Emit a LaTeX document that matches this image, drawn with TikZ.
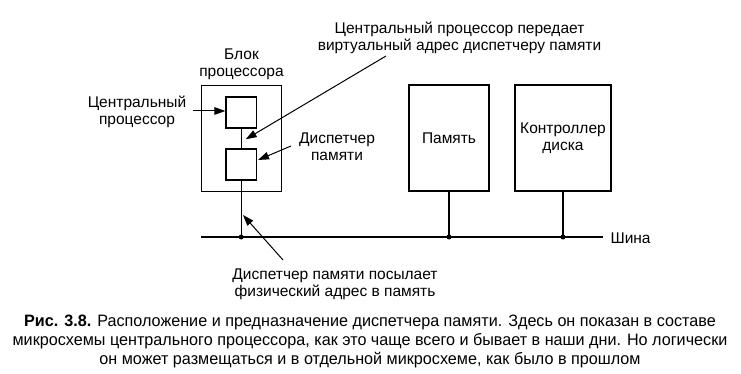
\documentclass[tikz,border=0pt]{standalone}
\usepackage{fontspec}
\setmainfont{Liberation Sans}
\newfontfamily\capfont[FakeStretch=0.98]{Liberation Sans}
\usetikzlibrary{arrows.meta}
\begin{document}
\begin{tikzpicture}[x=1pt,y=-1pt,line width=1.1pt,
  box/.style={draw,rectangle,inner sep=0pt},
  lbl/.style={align=center,inner sep=0pt,font=\fontsize{15.5}{17}\selectfont},
  arr/.style={-{Triangle[length=11pt,width=7.5pt]},line width=1pt},
  dot/.style={circle,fill,inner sep=0pt,minimum size=5pt}]
\useasboundingbox (0,0) rectangle (741,374);
% boxes
\node[box,minimum width=80,minimum height=106] (blk) at (241.5,138.5) {};
\node[box,minimum width=30.5,minimum height=31] (cpu) at (241.2,112.5) {};
\node[box,minimum width=30.5,minimum height=31] (mmu) at (241.2,164.5) {};
\node[box,minimum width=80,minimum height=106,lbl] (mem) at (449,138) {Память};
\node[box,minimum width=96,minimum height=106,lbl] (disk) at (563,138) {Контроллер\\диска};
% bus
\coordinate (busL) at (201,237);
\coordinate (busR) at (603,237);
\node[dot] (d1) at (241.2,237) {};
\node[dot] (d2) at (449,237) {};
\node[dot] (d3) at (563,237) {};
\draw (busL) -- (busR);
\node[lbl,anchor=west] (bus) at (610,238) {Шина};
\draw (cpu) -- (mmu);
\draw (mmu.south) -- (d1.center);
\draw (mem.south) -- (d2.center);
\draw (disk.south) -- (d3.center);
% labels
\node[lbl] (blkl) at (241.5,64) {Блок\\процессора};
\node[lbl] (cpul) at (137,112) {Центральный\\процессор};
\node[lbl] (mmul) at (337,147) {Диспетчер\\памяти};
\node[lbl] (topl) at (459.5,38) {Центральный процессор передает\\виртуальный адрес диспетчеру памяти};
\node[lbl] (botl) at (335,284) {Диспетчер памяти посылает\\физический адрес в память};
% arrows
\coordinate (a1s) at (193,111);
\coordinate (a2s) at (386,56);
\coordinate (a2e) at (245.7,139.3);
\coordinate (a3s) at (291,146);
\coordinate (a3e) at (258,160);
\coordinate (a4s) at (283,260);
\coordinate (a4e) at (243,215);
\draw[arr] (a1s) -- (cpu.west |- a1s);
\draw[arr] (a2s) -- (a2e);
\draw[arr] (a3s) -- (a3e);
\draw[arr] (a4s) -- (a4e);
% caption
\node[align=center,inner sep=0pt,font=\capfont\fontsize{16.5}{19}\selectfont] (cap) at (370,341)
{\textbf{Рис. 3.8.} Расположение и предназначение диспетчера памяти. Здесь он показан в составе\\
микросхемы центрального процессора, как это чаще всего и бывает в наши дни. Но логически\\
он может размещаться и в отдельной микросхеме, как было в прошлом};
\end{tikzpicture}
\end{document}
